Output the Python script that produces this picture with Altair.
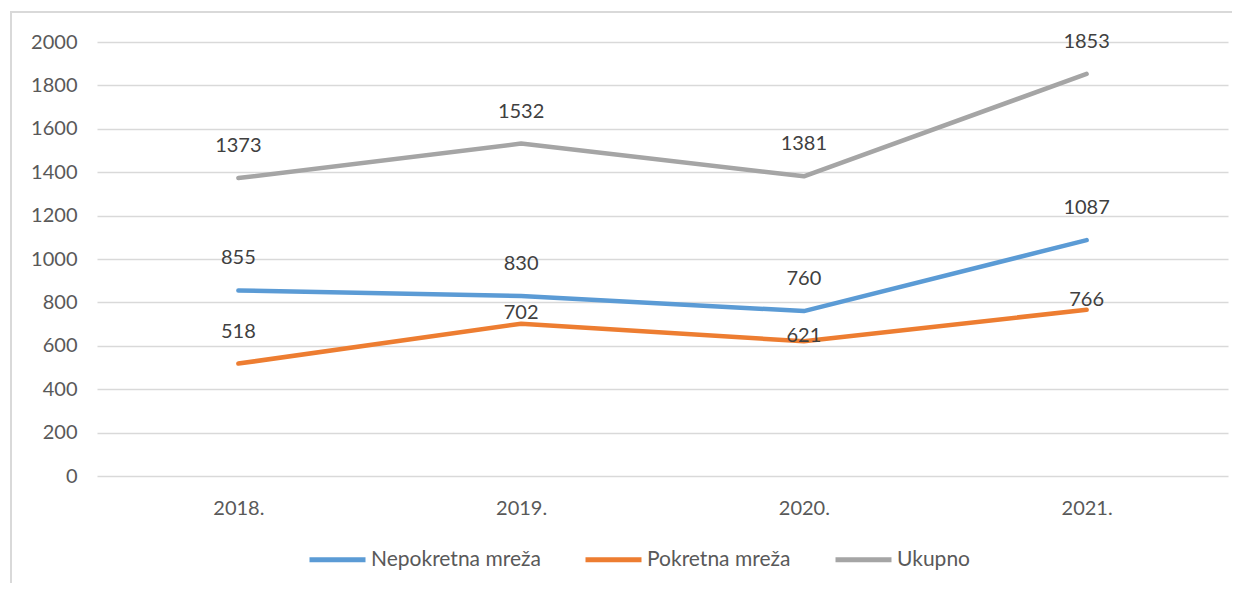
import altair as alt
import pandas as pd

years = ["2018.", "2019.", "2020.", "2021."]
series_names = ["Nepokretna mreža", "Pokretna mreža", "Ukupno"]
nepokretna = [855, 830, 760, 1087]
pokretna = [518, 702, 621, 766]
ukupno = [1373, 1532, 1381, 1853]
colors = ["#5B9BD5", "#ED7D31", "#A5A5A5"]

# label offsets (style, not data): default above the point, a few moved like the original
default_dy = -32
moved_dy = {("Pokretna mreža", "2019."): -11,
            ("Pokretna mreža", "2020."): -5,
            ("Pokretna mreža", "2021."): -10}

rows = []
for name, vals in zip(series_names, [nepokretna, pokretna, ukupno]):
    for y, v in zip(years, vals):
        rows.append({"year": y, "series": name, "value": v,
                     "dy": moved_dy.get((name, y), default_dy)})
df = pd.DataFrame(rows)

FONT = "Lato"

x = alt.X("year:N", sort=years, title=None,
          scale=alt.Scale(type="point", padding=0.5),
          axis=alt.Axis(labelAngle=0, labelFont=FONT, labelFontSize=20,
                        labelColor="#595959", labelPadding=22,
                        domain=False, ticks=False, grid=False))
y = alt.Y("value:Q", title=None,
          scale=alt.Scale(domain=[0, 2000], nice=False),
          axis=alt.Axis(values=list(range(0, 2001, 200)), format="d", labelFont=FONT,
                        labelFontSize=20, labelColor="#595959", labelPadding=20,
                        domain=False, ticks=False, gridColor="#D9D9D9",
                        gridWidth=1.3))
color = alt.Color("series:N", sort=series_names,
                  scale=alt.Scale(domain=series_names, range=colors),
                  legend=alt.Legend(title=None, orient="none", direction="horizontal",
                                    legendX=210, legendY=487,
                                    symbolType="stroke", symbolSize=3136,
                                    symbolStrokeWidth=5, labelOffset=3,
                                    columnPadding=34, labelFont=FONT, labelLimit=400,
                                    labelFontSize=21, labelColor="#595959"))

base = alt.Chart(df)

lines = base.mark_line(strokeWidth=4.5, strokeCap="round", strokeJoin="round").encode(
    x=x, y=y, color=color, detail="series:N")

label_layers = []
for d in sorted(df["dy"].unique()):
    label_layers.append(
        base.transform_filter(alt.datum.dy == int(d)).mark_text(
            font=FONT, fontSize=20, color="#404040", baseline="middle",
            dy=int(d)).encode(x=x, y=y, text="value:Q"))

border = alt.Chart(pd.DataFrame({"a": [0]})).mark_rect(
    fillOpacity=0, stroke="#D9D9D9", strokeWidth=2).encode(
    x=alt.value(-86), x2=alt.value(1170), y=alt.value(-30), y2=alt.value(600))

chart = alt.layer(border, lines, *label_layers).properties(
    width=1131, height=434,
    padding={"left": 89, "top": 34, "right": 4, "bottom": 107},
    autosize="none",
    background="white",
).configure_view(strokeWidth=0)

chart.save("out.html", embed_options={"renderer": "svg", "actions": False})
